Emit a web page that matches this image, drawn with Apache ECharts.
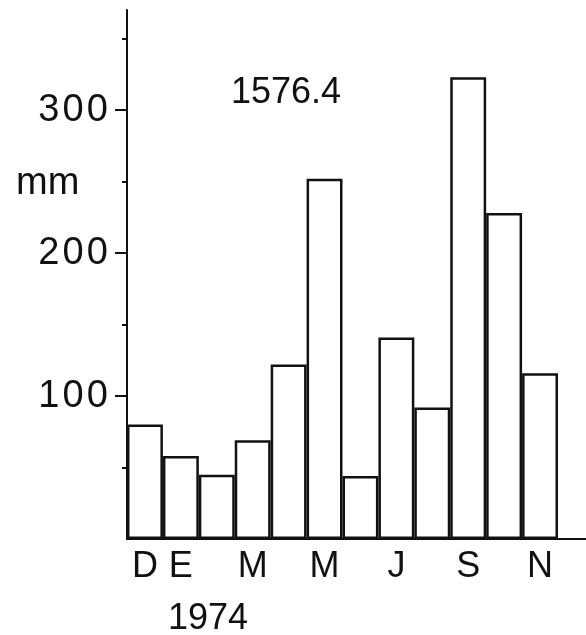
<!DOCTYPE html>
<html>
<head>
<meta charset="utf-8">
<script src="https://cdn.jsdelivr.net/npm/echarts@6/dist/echarts.min.js"></script>
<style>
	html, body { margin: 0; padding: 0; background: #fff; }
	#chart { width: 586px; height: 635px; }
</style>
</head>
<body>
<div id="chart"></div>
<script>
// meses (dic 1973 - nov 1974)
const months = ['D', 'E', 'F', 'M', 'A', 'M', 'J', 'J', 'A', 'S', 'O', 'N']
const shownLabels = [0, 1, 3, 5, 7, 9, 11]
const rainfall = [80, 58, 45, 69, 122, 252, 44, 141, 92, 323, 228, 116]
const majorTicks = [100, 200, 300]
const minorTicks = [50, 150, 250, 350]
const total = '1576.4'
const yearLabel = '1974'
const unit = 'mm'

const font = 'Liberation Sans'
const myEchart = echarts.init(document.getElementById('chart'))

// espaciado entre cifras, como en el original
const spaced = v => String(v).split('').join('\u200a')

const option = {
	animation: false,
	title: [
		{ text: total, left: 226, top: 70, textStyle: { fontFamily: font, fontSize: 36, fontWeight: 'normal', color: '#111' } },
		{ text: unit, left: 11, top: 160, textStyle: { fontFamily: font, fontSize: 38, fontWeight: 'normal', color: '#111' } },
		{ text: yearLabel, left: 163, top: 596, textStyle: { fontFamily: font, fontSize: 36, fontWeight: 'normal', color: '#111' } }
	],
	grid: [
		// barras
		{ left: 127, top: 10, width: 431, height: 529, containLabel: false },
		// solo para prolongar el eje x hasta el borde
		{ left: 127, top: 10, right: 0, height: 529, containLabel: false }
	],
	xAxis: [
		{
			type: 'category',
			gridIndex: 0,
			data: months,
			axisLine: { show: false },
			axisTick: { show: false },
			axisLabel: {
				interval: (idx) => shownLabels.includes(idx),
				margin: 10,
				fontFamily: font,
				fontSize: 36,
				color: '#111'
			},
			splitLine: { show: false }
		},
		{
			type: 'value',
			gridIndex: 1,
			axisLine: { show: true, lineStyle: { color: '#111', width: 2 } },
			axisTick: { show: false },
			axisLabel: { show: false },
			splitLine: { show: false }
		}
	],
	yAxis: [
		{
			type: 'value',
			gridIndex: 0,
			min: 0,
			max: 370,
			axisLine: { show: true, lineStyle: { color: '#111', width: 2 } },
			axisTick: {
				show: true,
				customValues: majorTicks,
				length: 12,
				lineStyle: { color: '#111', width: 2 }
			},
			axisLabel: {
				customValues: majorTicks,
				formatter: spaced,
				margin: 19,
				fontFamily: font,
				fontSize: 38,
				color: '#111'
			},
			splitLine: { show: false }
		},
		{
			type: 'value',
			gridIndex: 0,
			position: 'left',
			min: 0,
			max: 370,
			axisLine: { show: false },
			axisTick: {
				show: true,
				customValues: minorTicks,
				length: 5,
				lineStyle: { color: '#111', width: 2 }
			},
			axisLabel: { show: false },
			splitLine: { show: false }
		},
		{
			type: 'value',
			gridIndex: 1,
			show: false
		}
	],
	series: [
		{
			type: 'bar',
			xAxisIndex: 0,
			yAxisIndex: 0,
			data: rainfall,
			barCategoryGap: 0,
			itemStyle: {
				color: '#fff',
				borderColor: '#111',
				borderWidth: 2.5
			}
		}
	]
}
myEchart.setOption(option)
</script>
</body>
</html>
